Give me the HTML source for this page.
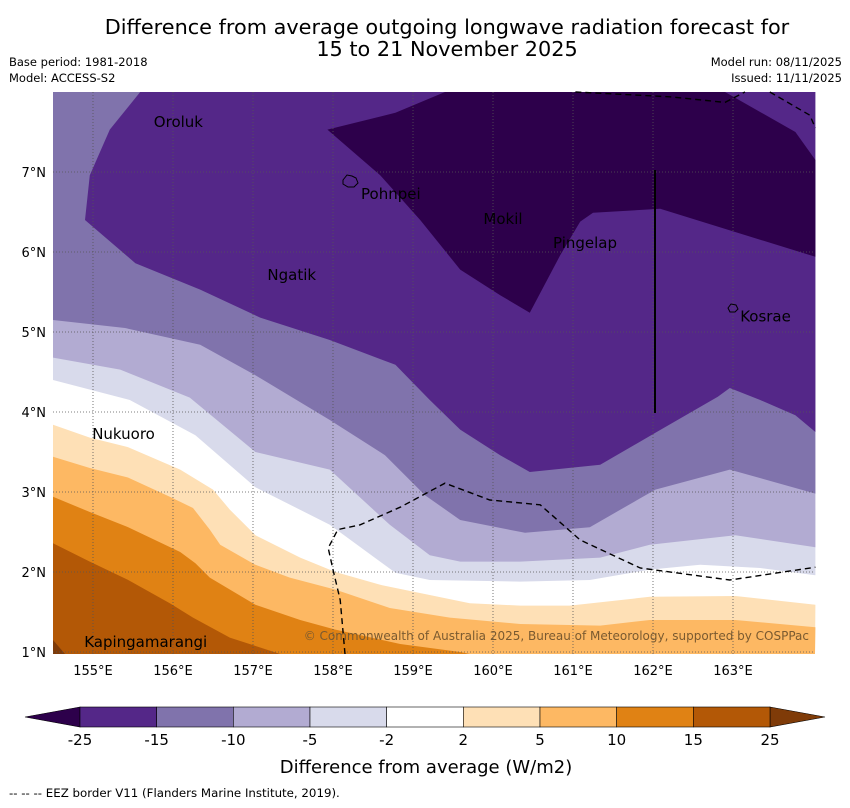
<!DOCTYPE html>
<html><head><meta charset="utf-8"><style>
body{margin:0;background:#fff;width:850px;height:804px;overflow:hidden;font-family:"DejaVu Sans","Liberation Sans",sans-serif}
svg text{font-family:"DejaVu Sans","Liberation Sans",sans-serif}
</style></head><body>
<svg id="c" width="850" height="804" viewBox="0 0 850 804" xmlns="http://www.w3.org/2000/svg">
<text x="447" y="34" font-size="20.8" text-anchor="middle">Difference from average outgoing longwave radiation forecast for</text>
<text x="447" y="56" font-size="20.8" text-anchor="middle">15 to 21 November 2025</text>
<text x="9" y="66" font-size="11.5">Base period: 1981-2018</text>
<text x="9" y="82" font-size="11.5">Model: ACCESS-S2</text>
<text x="842" y="66" font-size="11.5" text-anchor="end">Model run: 08/11/2025</text>
<text x="842" y="82" font-size="11.5" text-anchor="end">Issued: 11/11/2025</text>
<g id="map"></g>
<g id="cb"></g>
<text x="426" y="773" font-size="18" text-anchor="middle">Difference from average (W/m2)</text>
<text x="9" y="797" font-size="11.8">--  --  -- EEZ border V11 (Flanders Marine Institute, 2019).</text>
</svg>
<script>
const lonTicks=[155,156,157,158,159,160,161,162,163];
const latTicks=[1,2,3,4,5,6,7];
const cbLevels=[-25,-15,-10,-5,-2,2,5,10,15,25];
const cbColors=["#542788","#8073ac","#b2abd2","#d8daeb","#ffffff","#fee0b6","#fdb863","#e08214","#b35806"];
const cUpperN2=[[154.5,4.4],[155.46,4.15],[156.28,3.71],[157.03,3.06],[157.96,2.59],[158.78,1.99],[159.21,1.9],[160.34,1.88],[161.21,1.9],[161.96,2.03],[162.59,2.09],[163.34,2.05],[164.03,1.96]];
const cUpperN5=[[154.5,4.68],[155.34,4.53],[156.21,4.18],[157.03,3.5],[157.96,3.28],[158.71,2.59],[159.21,2.21],[159.59,2.13],[160.34,2.13],[161.34,2.18],[161.96,2.34],[163.03,2.46],[164.03,2.31]];
const cUpperN10=[[154.5,5.15],[155.4,5.05],[156.34,4.84],[157.03,4.46],[157.96,3.9],[158.65,3.46],[159.15,2.96],[159.59,2.65],[160.4,2.49],[161.21,2.56],[162.03,3.03],[162.96,3.28],[164.03,2.98]];
const cRegionN15=[[154.9,6.4],[154.96,6.96],[155.21,7.53],[155.59,8],[164.03,8],[164.03,3.75],[163.78,3.96],[163.34,4.15],[162.96,4.3],[162.81,4.19],[162.03,3.74],[161.34,3.34],[160.46,3.25],[160.09,3.46],[159.59,3.78],[159.21,4.15],[158.78,4.59],[157.96,4.9],[157.09,5.18],[156.34,5.53],[155.53,5.86]];
const cRegionN25=[[157.93,7.53],[158.78,7.74],[159.4,8],[162.9,8],[163.78,7.5],[164.03,7.15],[164.03,5.94],[162.09,6.54],[161.25,6.49],[161.09,6.38],[160.84,5.96],[160.46,5.24],[160.09,5.46],[159.59,5.78],[159.09,6.4],[158.59,6.96]];
const cLower2=[[154.5,3.84],[154.96,3.68],[155.44,3.56],[156.09,3.28],[156.5,3.03],[156.71,2.78],[157.03,2.46],[157.59,2.18],[158.03,2.0],[158.59,1.84],[159.71,1.61],[160.34,1.58],[160.96,1.58],[161.96,1.69],[163.03,1.7],[164.03,1.59]];
const cLower5=[[154.5,3.44],[154.96,3.3],[155.44,3.18],[155.96,2.94],[156.25,2.8],[156.46,2.53],[156.59,2.34],[157.03,2.09],[157.46,1.93],[158.03,1.78],[158.71,1.55],[159.46,1.43],[160.34,1.35],[161.34,1.33],[161.96,1.4],[163.03,1.4],[164.03,1.31]];
const cLower10=[[154.5,2.94],[154.96,2.75],[155.44,2.56],[156.09,2.25],[156.28,2.11],[156.46,1.93],[157.03,1.59],[157.59,1.4],[158.03,1.28],[158.84,1.1],[159.59,1.0],[159.71,0.975]];
const cLower15=[[154.5,2.36],[154.96,2.13],[155.44,1.9],[155.96,1.61],[156.25,1.43],[156.71,1.18],[157.34,0.975]];
const cLower25=[[154.5,1.15],[154.65,0.975]];
const eezMain=[[158.15,0.975],[158.09,1.65],[158.0,2.03],[157.94,2.3],[158.06,2.53],[158.34,2.59],[158.84,2.81],[159.4,3.11],[159.96,2.9],[160.59,2.84],[161.09,2.4],[161.84,2.05],[162.96,1.9],[164.03,2.06]];
const eezTop=[[161.03,8],[162.21,7.94],[162.9,7.87],[163.15,8]];
const eezTop2=[[163.46,8],[163.96,7.71],[164.03,7.55]];
const places=[["Oroluk",155.76,7.56],["Pohnpei",158.35,6.66],["Mokil",159.88,6.35],["Pingelap",160.75,6.05],["Ngatik",157.18,5.65],["Kosrae",163.09,5.13],["Nukuoro",154.99,3.66],["Kapingamarangi",154.89,1.06]];
const X0=53,X1=815,Y0=92,Y1=654,LON0=154.5,LAT1=8;
const xs=l=>X0+(l-LON0)*80, ys=a=>Y0+(LAT1-a)*80;
const NS="http://www.w3.org/2000/svg";
const map=document.getElementById('map'), cb=document.getElementById('cb');
function mk(t,a,p){const e=document.createElementNS(NS,t);for(const k in a)e.setAttribute(k,a[k]);p.appendChild(e);return e;}
const pts=arr=>arr.map(p=>xs(p[0]).toFixed(1)+","+ys(p[1]).toFixed(1)).join(" ");
const bg=mk('rect',{x:X0,y:Y0,width:X1-X0,height:Y1-Y0,fill:'#fff'},map);


function upper(c,col,name){const p=mk('polygon',{points:pts(c)+` ${X1},${Y0} ${X0},${Y0}`,fill:col},map);

}
function region(c,col,name){const p=mk('polygon',{points:pts(c),fill:col},map);

}
function lower(c,col,name){const last=c[c.length-1];const ex=xs(last[0])>=X1-1?` ${X1},${Y1}`:'';
const p=mk('polygon',{points:pts(c)+ex+` ${X0},${Y1}`,fill:col},map);

}
upper(cUpperN2,'#d8daeb','band-minus2-minus5');
upper(cUpperN5,'#b2abd2','band-minus5-minus10');
upper(cUpperN10,'#8073ac','band-minus10-minus15');
region(cRegionN15,'#542788','band-minus15-minus25');
region(cRegionN25,'#2d004b','band-below-minus25');
lower(cLower2,'#fee0b6','band-2-5');
lower(cLower5,'#fdb863','band-5-10');
lower(cLower10,'#e08214','band-10-15');
lower(cLower15,'#b35806','band-15-25');
lower(cLower25,'#7f3b08','band-above-25');
lonTicks.forEach(l=>{const g=mk('line',{x1:xs(l),x2:xs(l),y1:Y0,y2:Y1,stroke:'#555','stroke-width':0.8,'stroke-dasharray':'1,2'},map);


const t=mk('text',{x:xs(l),y:Y1+21,'font-size':13,'text-anchor':'middle'},cb);t.textContent=l+'°E';

});
latTicks.forEach(a=>{const g=mk('line',{x1:X0,x2:X1,y1:ys(a),y2:ys(a),stroke:'#555','stroke-width':0.8,'stroke-dasharray':'1,2'},map);


const t=mk('text',{x:X0-7,y:ys(a)+5,'font-size':13,'text-anchor':'end'},cb);t.textContent=a+'°N';

});
[eezMain,eezTop,eezTop2].forEach(c=>{const e=mk('polyline',{points:pts(c),fill:'none',stroke:'#000','stroke-width':1.4,'stroke-dasharray':'6,4'},map);

});
const vl=mk('line',{x1:655,x2:655,y1:170,y2:413,stroke:'#000','stroke-width':2},map);


const isl=mk('path',{d:'M343,180 l4,-5 5,1 4,2 2,5 -4,4 -6,0 -5,-3z',fill:'none',stroke:'#000','stroke-width':1},map);


const isl2=mk('path',{d:'M728,308 l3,-4 5,1 2,4 -3,3 -5,0z',fill:'none',stroke:'#000','stroke-width':1},map);


places.forEach(p=>{const t=mk('text',{x:xs(p[1]),y:ys(p[2]),'font-size':15,fill:'#000'},map);t.textContent=p[0];

});
const cr=mk('text',{x:809,y:640,'font-size':12,'text-anchor':'end',fill:'#7a5a30'},map);cr.textContent='© Commonwealth of Australia 2025, Bureau of Meteorology, supported by COSPPac';


const CX0=80,CX1=770,CY=707,CH=20,seg=(CX1-CX0)/cbColors.length;
const lt=mk('polygon',{points:`${CX0},${CY} 25,${CY+CH/2} ${CX0},${CY+CH}`,fill:'#2d004b',stroke:'#000','stroke-width':0.6},cb);


const rt=mk('polygon',{points:`${CX1},${CY} 825,${CY+CH/2} ${CX1},${CY+CH}`,fill:'#7f3b08',stroke:'#000','stroke-width':0.6},cb);


cbColors.forEach((c,i)=>{const r=mk('rect',{x:CX0+i*seg,y:CY,width:seg,height:CH,fill:c,stroke:'#000','stroke-width':0.6},cb);

});
cbLevels.forEach((v,i)=>{const t=mk('text',{x:CX0+i*seg,y:745,'font-size':15,'text-anchor':'middle'},cb);t.textContent=v;

});
</script>
</body></html>
